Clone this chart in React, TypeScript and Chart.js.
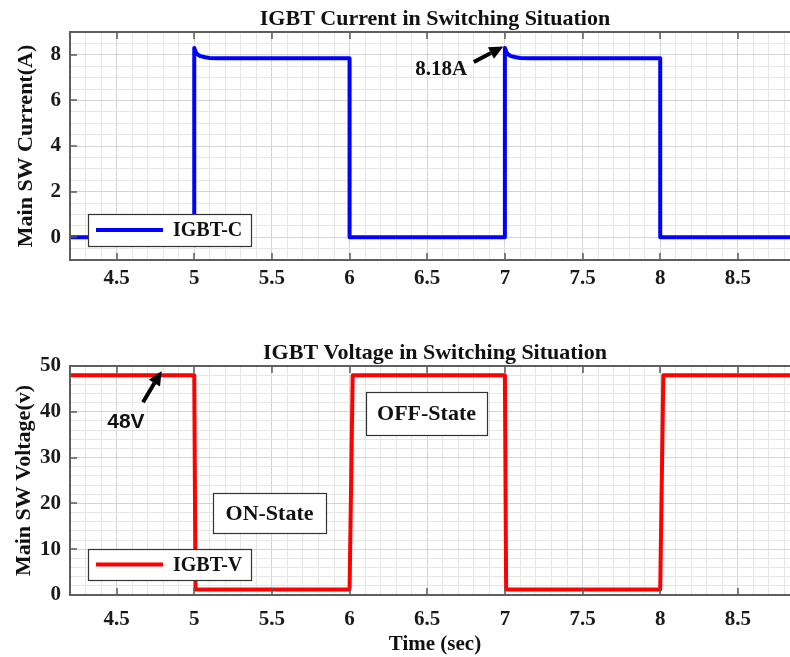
import React, { useEffect, useRef } from 'react';
import { Chart, registerables } from 'chart.js';
Chart.register(...registerables);

const SERIF = "'Liberation Serif', 'Times New Roman', serif";
const SANS = "'Liberation Sans', Arial, sans-serif";

// shared time axis
const xMin = 4.2;
const xMax = 8.9;
const xMinorStep = 0.1;
const xMajorStep = 0.5;

// IGBT current (A)
const currentTime = [4.2, 5.0, 5.0, 5.01, 5.02, 5.04, 5.07, 5.1, 5.15, 6.0, 6.0, 7.0, 7.0, 7.01, 7.02, 7.04, 7.07, 7.1, 7.15, 8.0, 8.0, 8.9];
const currentValues = [0, 0, 8.3, 8.12, 8.02, 7.94, 7.89, 7.86, 7.85, 7.85, 0, 0, 8.3, 8.12, 8.02, 7.94, 7.89, 7.86, 7.85, 7.85, 0, 0];
const currentYMin = -1;
const currentYMax = 9;
const currentYMinor = 0.5;
const currentYMajor = 2;

// IGBT voltage (V)
const voltageTime = [4.2, 5.0, 5.008, 6.0, 6.02, 7.0, 7.008, 8.0, 8.02, 8.9];
const voltageValues = [48, 48, 1.2, 1.2, 48, 48, 1.2, 1.2, 48, 48];
const voltageYMin = 0;
const voltageYMax = 50;
const voltageYMinor = 2;
const voltageYMajor = 10;

// annotations (data coordinates)
const currentNote = { text: '8.18A', x: 6.59, y: 7.33, from: [6.8, 7.68], to: [6.99, 8.36] };
const voltageNote = { text: '48V', x: 4.56, y: 37.8, from: [4.67, 42.1], to: [4.79, 48.9] };
const voltageBoxes = [
  { text: 'ON-State', x1: 5.121, x2: 5.848, y1: 22.27, y2: 13.54 },
  { text: 'OFF-State', x1: 6.106, x2: 6.885, y1: 44.3, y2: 34.9 },
];

function stepTicks(min: number, max: number, step: number) {
  const out: { value: number }[] = [];
  const n = Math.round((max - min) / step);
  for (let i = 0; i <= n; i++) out.push({ value: +(min + i * step).toFixed(6) });
  return out;
}
const isMult = (v: number, m: number) => Math.abs(v / m - Math.round(v / m)) < 1e-6;

function drawArrow(ctx: CanvasRenderingContext2D, x1: number, y1: number, x2: number, y2: number) {
  const ang = Math.atan2(y2 - y1, x2 - x1);
  const head = 14;
  const hw = 6.5;
  const bx = x2 - head * Math.cos(ang);
  const by = y2 - head * Math.sin(ang);
  ctx.strokeStyle = '#000';
  ctx.fillStyle = '#000';
  ctx.lineWidth = 4;
  ctx.beginPath();
  ctx.moveTo(x1, y1);
  ctx.lineTo(bx, by);
  ctx.stroke();
  ctx.beginPath();
  ctx.moveTo(x2, y2);
  ctx.lineTo(bx + hw * Math.sin(ang), by - hw * Math.cos(ang));
  ctx.lineTo(bx - hw * Math.sin(ang), by + hw * Math.cos(ang));
  ctx.closePath();
  ctx.fill();
}

function makeDeco(cfg: any) {
  return {
    id: 'deco',
    afterDatasetsDraw(chart: any) {
      const { ctx, chartArea: a, scales } = chart;
      const xs = scales.x;
      const ys = scales.y;
      ctx.save();
      // inner tick marks
      ctx.strokeStyle = '#5a5a5a';
      ctx.lineWidth = 1.5;
      ctx.beginPath();
      xs.ticks.forEach((t: any) => {
        if (!isMult(t.value, xMajorStep)) return;
        const px = Math.round(xs.getPixelForValue(t.value));
        ctx.moveTo(px, a.bottom);
        ctx.lineTo(px, a.bottom - 7);
        ctx.moveTo(px, a.top);
        ctx.lineTo(px, a.top + 7);
      });
      ys.ticks.forEach((t: any) => {
        if (!isMult(t.value, cfg.yMajor)) return;
        const py = Math.round(ys.getPixelForValue(t.value));
        ctx.moveTo(a.left, py);
        ctx.lineTo(a.left + 7, py);
      });
      ctx.stroke();
      // box
      ctx.lineWidth = 2;
      ctx.strokeStyle = '#5e5e5e';
      ctx.strokeRect(a.left, a.top, a.right - a.left, a.bottom - a.top);

      // title
      ctx.fillStyle = '#111';
      ctx.font = `bold 22px ${SERIF}`;
      ctx.textAlign = 'center';
      ctx.textBaseline = 'middle';
      ctx.fillText(cfg.title, (a.left + a.right) / 2, cfg.titleY);

      // text boxes
      (cfg.boxes || []).forEach((b: any) => {
        const x1 = xs.getPixelForValue(b.x1);
        const x2 = xs.getPixelForValue(b.x2);
        const y1 = ys.getPixelForValue(b.y1);
        const y2 = ys.getPixelForValue(b.y2);
        ctx.fillStyle = '#fff';
        ctx.fillRect(x1, y1, x2 - x1, y2 - y1);
        ctx.strokeStyle = '#333';
        ctx.lineWidth = 1.2;
        ctx.strokeRect(Math.round(x1) + 0.5, Math.round(y1) + 0.5, Math.round(x2 - x1), Math.round(y2 - y1));
        ctx.fillStyle = '#111';
        ctx.font = `bold 22px ${SERIF}`;
        ctx.textAlign = 'center';
        ctx.textBaseline = 'middle';
        ctx.fillText(b.text, (x1 + x2) / 2, (y1 + y2) / 2 + 1);
      });

      // annotation
      const n = cfg.note;
      if (n) {
        ctx.fillStyle = '#111';
        ctx.font = n.font;
        ctx.textAlign = 'center';
        ctx.textBaseline = 'middle';
        ctx.fillText(n.text, xs.getPixelForValue(n.x), ys.getPixelForValue(n.y));
        drawArrow(ctx, xs.getPixelForValue(n.from[0]), ys.getPixelForValue(n.from[1]), xs.getPixelForValue(n.to[0]), ys.getPixelForValue(n.to[1]));
      }

      // legend
      const lx = a.left + 18;
      const lh = cfg.legendH;
      const ly = a.bottom - cfg.legendBottom - lh;
      const lw = 163;
      ctx.fillStyle = '#fff';
      ctx.fillRect(lx, ly, lw, lh);
      ctx.strokeStyle = '#333';
      ctx.lineWidth = 1.2;
      ctx.strokeRect(Math.round(lx) + 0.5, Math.round(ly) + 0.5, lw, lh);
      ctx.strokeStyle = cfg.color;
      ctx.lineWidth = 4;
      ctx.beginPath();
      ctx.moveTo(lx + 8, ly + lh / 2);
      ctx.lineTo(lx + 75, ly + lh / 2);
      ctx.stroke();
      ctx.fillStyle = '#111';
      ctx.font = `bold 20px ${SERIF}`;
      ctx.textAlign = 'left';
      ctx.textBaseline = 'middle';
      ctx.fillText(cfg.legend, lx + 85, ly + lh / 2 + 1);
      ctx.restore();
    },
  };
}

function buildConfig(opts: any) {
  const points = opts.xs.map((x: number, i: number) => ({ x, y: opts.ys[i] }));
  return {
    type: 'line',
    data: {
      datasets: [
        {
          label: opts.legend,
          data: points,
          borderColor: opts.color,
          borderWidth: 4,
          pointRadius: 0,
          tension: 0,
          fill: false,
          borderJoinStyle: 'round',
          borderCapStyle: 'round',
        },
      ],
    },
    options: {
      responsive: false,
      animation: false,
      events: [],
      layout: { autoPadding: false, padding: { top: opts.padTop, left: 0, right: 0, bottom: 0 } },
      plugins: { legend: { display: false }, tooltip: { enabled: false }, title: { display: false } },
      scales: {
        x: {
          type: 'linear',
          min: xMin,
          max: xMax,
          afterBuildTicks: (s: any) => { s.ticks = stepTicks(xMin, xMax, xMinorStep); },
          afterFit: (s: any) => { s.height = opts.xHeight; s.paddingLeft = 0; s.paddingRight = 0; },
          ticks: {
            autoSkip: false,
            maxRotation: 0,
            padding: opts.xTickPad,
            color: '#1a1a1a',
            font: { family: SERIF, size: 21, weight: 'bold' },
            callback: (v: number) => (isMult(v, xMajorStep) ? String(+v.toFixed(1)) : ''),
          },
          grid: {
            drawTicks: false,
            color: (c: any) => (c.tick && isMult(c.tick.value, xMajorStep) ? '#d4d4d4' : '#e6e6e6'),
            lineWidth: 1,
          },
          border: { display: false },
          title: opts.xTitle
            ? { display: true, text: opts.xTitle, color: '#111', font: { family: SERIF, size: 21, weight: 'bold' }, padding: { top: 0, bottom: 0 } }
            : { display: false },
        },
        y: {
          type: 'linear',
          min: opts.yMin,
          max: opts.yMax,
          afterBuildTicks: (s: any) => { s.ticks = stepTicks(opts.yMin, opts.yMax, opts.yMinor); },
          afterFit: (s: any) => { s.width = 70; s.paddingTop = 0; s.paddingBottom = 0; },
          ticks: {
            autoSkip: false,
            padding: 9,
            color: '#1a1a1a',
            font: { family: SERIF, size: 21, weight: 'bold' },
            callback: (v: number) => (isMult(v, opts.yMajor) ? String(v) : ''),
          },
          grid: {
            drawTicks: false,
            color: (c: any) => (c.tick && isMult(c.tick.value, opts.yMajor) ? '#d4d4d4' : '#e6e6e6'),
            lineWidth: 1,
          },
          border: { display: false },
          title: { display: true, text: opts.yTitle, color: '#111', font: { family: SERIF, size: 22, weight: 'bold' }, padding: { top: opts.yTitlePad, bottom: 0 } },
        },
      },
    },
    plugins: [makeDeco(opts)],
  };
}

export default function App() {
  const topRef = useRef<HTMLCanvasElement>(null);
  const botRef = useRef<HTMLCanvasElement>(null);

  useEffect(() => {
    const c1 = new Chart(topRef.current as any, buildConfig({
      xs: currentTime,
      ys: currentValues,
      color: '#0000ff',
      legend: 'IGBT-C',
      title: 'IGBT Current in Switching Situation',
      titleY: 19,
      padTop: 32,
      xHeight: 40,
      xTickPad: 6,
      yMin: currentYMin,
      yMax: currentYMax,
      yMinor: currentYMinor,
      yMajor: currentYMajor,
      yTitle: 'Main SW Current(A)',
      yTitlePad: 13,
      legendBottom: 14,
      legendH: 32,
      note: { ...currentNote, font: `bold 21px ${SERIF}` },
    }) as any);
    const c2 = new Chart(botRef.current as any, buildConfig({
      xs: voltageTime,
      ys: voltageValues,
      color: '#ff0000',
      legend: 'IGBT-V',
      title: 'IGBT Voltage in Switching Situation',
      titleY: 53,
      padTop: 66,
      xHeight: 62,
      xTickPad: 12,
      xTitle: 'Time (sec)',
      yMin: voltageYMin,
      yMax: voltageYMax,
      yMinor: voltageYMinor,
      yMajor: voltageYMajor,
      yTitle: 'Main SW Voltage(v)',
      yTitlePad: 11,
      legendBottom: 15,
      legendH: 31,
      boxes: voltageBoxes,
      note: { ...voltageNote, font: `bold 21px ${SANS}` },
    }) as any);
    return () => {
      c1.destroy();
      c2.destroy();
    };
  }, []);

  return (
    <div style={{ position: 'fixed', left: 0, top: 0, width: 790, height: 657, overflow: 'hidden', background: '#fff' }}>
      <canvas ref={topRef} width={800} height={300} style={{ position: 'absolute', left: 0, top: 0, width: 800, height: 300 }} />
      <canvas ref={botRef} width={800} height={357} style={{ position: 'absolute', left: 0, top: 300, width: 800, height: 357 }} />
    </div>
  );
}
